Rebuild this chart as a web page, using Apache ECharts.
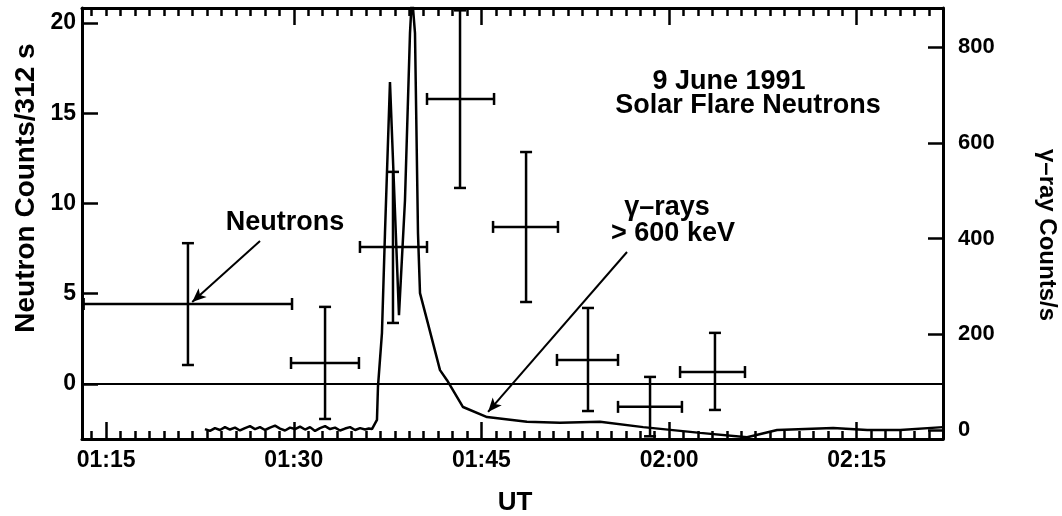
<!DOCTYPE html>
<html><head><meta charset="utf-8">
<script src="https://cdn.jsdelivr.net/npm/echarts@6/dist/echarts.min.js"></script>
<style>html,body{margin:0;padding:0;background:#fff}#c{width:1062px;height:516px}</style>
</head><body><div id="c"></div>
<script>
// Time axis: minutes after 01:15 UT
const xTickValues = [0, 15, 30, 45, 60];
const xTickLabels = ['01:15', '01:30', '01:45', '02:00', '02:15'];
const leftTickValues = [0, 5, 10, 15, 20];
const rightTickValues = [0, 200, 400, 600, 800];

// Neutron counts per 312 s bins (left axis)
const neutronTime   = [6.54, 17.5, 22.93, 28.29, 33.57, 38.52, 43.48, 48.67];
const neutronTimeLo = [-1.8, 14.78, 20.29, 25.65, 30.93, 36.04, 40.92, 45.88];
const neutronTimeHi = [14.86, 20.21, 25.65, 31.01, 36.12, 40.92, 46.03, 51.07];
const neutronCounts = [4.43, 1.16, 7.59, 15.79, 8.7, 1.33, -1.27, 0.66];
const neutronLo     = [1.05, -1.94, 3.38, 10.86, 4.54, -1.5, -2.9, -1.44];
const neutronHi     = [7.8, 4.27, 11.75, 20.7, 12.85, 4.21, 0.39, 2.83];

// Gamma-ray > 600 keV counts/s (right axis)
const gammaTime = [7.9, 8.3, 8.7, 9.1, 9.5, 9.9, 10.3, 10.7, 11.1, 11.5, 11.9, 12.3, 12.7, 13.1, 13.5, 13.9,
  14.3, 14.7, 15.1, 15.5, 15.9, 16.3, 16.7, 17.1, 17.5, 17.9, 18.3, 18.7, 19.1, 19.5, 19.9, 20.3, 20.7, 21.0, 21.25,
  21.65, 21.73, 22.05, 22.29, 22.69, 23.41, 23.89, 24.29, 24.45, 24.69, 24.93, 25.09, 25.65, 26.69, 27.25, 28.53,
  30.45, 33.64, 36.28, 39.48, 42.93, 47.48, 51.24, 53.64, 58.12, 60.84, 63.48, 66.9];
const gammaCounts = [2, -2, 4, 0, 6, 1, 5, -1, 4, 8, 2, 6, 0, 5, 9, 3,
  -1, 5, 2, 7, 1, 6, -2, 4, 8, 2, 5, -1, 3, 6, 0, 4, 1, 3, 2,
  21, 90, 203, 411, 727, 240, 480, 829, 908, 829, 411, 286, 230, 125, 104, 48,
  27, 17, 15, 17, 6, -6, -15, 0, 4, 0, 0, 6];

// Annotation arrows (data coordinates on left axis)
const neutronArrow = [[12.3, 7.92], [6.88, 4.54]];
const gammaArrow = [[41.64, 7.31], [30.53, -1.55]];

const X_MIN = -1.93, X_MAX = 66.9;
const minorStep = 15 / 13;
const minorTicks = [];
for (let k = -1; k * minorStep < X_MAX; k++) { const v = k * minorStep; if (v > X_MIN) minorTicks.push(+v.toFixed(4)); }

const FONT = '"Liberation Sans", Arial, sans-serif';
const chart = echarts.init(document.getElementById('c'), null, {renderer: 'canvas'});

const ebData = neutronTime.map((t, i) => [t, neutronTimeLo[i], neutronTimeHi[i], neutronCounts[i], neutronLo[i], neutronHi[i]]);
const gammaData = gammaTime.map((t, i) => [t, gammaCounts[i]]);

const axisLine = {show: true, onZero: false, lineStyle: {color: '#000', width: 3}};
function xAx(pos, ticks, len, showLine, labels) {
  return {
    type: 'value', position: pos, min: X_MIN, max: X_MAX,
    axisLine: showLine ? axisLine : {show: false, onZero: false},
    axisTick: {show: true, inside: true, length: len, customValues: ticks, lineStyle: {color: '#000', width: 2.5}},
    axisLabel: labels ? {
      show: true, customValues: xTickValues, margin: 10,
      color: '#000', fontFamily: FONT, fontWeight: 'bold', fontSize: 23,
      formatter: v => xTickLabels[xTickValues.indexOf(Math.round(v))] || ''
    } : {show: false},
    splitLine: {show: false}
  };
}

const option = {
  animation: false,
  backgroundColor: '#fff',
  grid: {left: 82, right: 119, top: 8, bottom: 77},
  xAxis: [
    xAx('bottom', minorTicks, 8, true, true),
    xAx('bottom', xTickValues, 17, false, false),
    xAx('top', minorTicks, 8, true, false),
    xAx('top', xTickValues.slice(1), 17, false, false)
  ],
  yAxis: [
    {
      type: 'value', position: 'left', min: -3.05, max: 20.83,
      axisLine: axisLine,
      axisTick: {show: true, inside: true, length: 16, customValues: leftTickValues, lineStyle: {color: '#000', width: 2.5}},
      axisLabel: {show: true, customValues: leftTickValues, margin: 6, color: '#000', fontFamily: FONT, fontWeight: 'bold', fontSize: 23},
      splitLine: {show: false}
    },
    {
      type: 'value', position: 'right', min: -18.8, max: 881.5,
      axisLine: axisLine,
      axisTick: {show: true, inside: true, length: 15, customValues: rightTickValues, lineStyle: {color: '#000', width: 2.5}},
      axisLabel: {show: true, customValues: rightTickValues, margin: 15, color: '#000', fontFamily: FONT, fontWeight: 'bold', fontSize: 22},
      splitLine: {show: false}
    }
  ],
  series: [
    {
      type: 'line', name: 'gamma', xAxisIndex: 0, yAxisIndex: 1,
      data: gammaData, showSymbol: false, symbol: 'none', clip: true,
      lineStyle: {color: '#000', width: 2.5}
    },
    {
      type: 'custom', name: 'neutrons', xAxisIndex: 0, yAxisIndex: 0,
      data: ebData,
      encode: {x: [0, 1, 2], y: [3, 4, 5]},
      renderItem: function (params, api) {
        const c = api.coord([api.value(0), api.value(3)]);
        const l = api.coord([api.value(1), api.value(3)]);
        const r = api.coord([api.value(2), api.value(3)]);
        const lo = api.coord([api.value(0), api.value(4)]);
        const hi = api.coord([api.value(0), api.value(5)]);
        const cap = 6;
        const st = {stroke: '#000', lineWidth: 2.5, fill: null};
        return {type: 'group', children: [
          {type: 'line', shape: {x1: l[0], y1: c[1], x2: r[0], y2: c[1]}, style: st},
          {type: 'line', shape: {x1: c[0], y1: lo[1], x2: c[0], y2: hi[1]}, style: st},
          {type: 'line', shape: {x1: l[0], y1: c[1] - cap, x2: l[0], y2: c[1] + cap}, style: st},
          {type: 'line', shape: {x1: r[0], y1: c[1] - cap, x2: r[0], y2: c[1] + cap}, style: st},
          {type: 'line', shape: {x1: c[0] - cap, y1: lo[1], x2: c[0] + cap, y2: lo[1]}, style: st},
          {type: 'line', shape: {x1: c[0] - cap, y1: hi[1], x2: c[0] + cap, y2: hi[1]}, style: st}
        ]};
      },
      markLine: {
        silent: true, animation: false,
        symbol: 'none',
        label: {show: false},
        lineStyle: {color: '#000', type: 'solid', width: 2},
        data: [
          [{coord: [X_MIN, 0], symbol: 'none'}, {coord: [X_MAX, 0], symbol: 'none'}],
          [{coord: neutronArrow[0], symbol: 'none'}, {coord: neutronArrow[1], symbol: 'arrow', symbolSize: [9, 14]}],
          [{coord: gammaArrow[0], symbol: 'none'}, {coord: gammaArrow[1], symbol: 'arrow', symbolSize: [9, 14]}]
        ]
      }
    }
  ],
  graphic: [
    {type: 'text', x: 26, y: 188, rotation: Math.PI / 2, style: {text: 'Neutron Counts/312 s', fill: '#000', font: 'bold 28px ' + FONT, align: 'center', verticalAlign: 'middle'}},
    {type: 'text', x: 1047, y: 235, rotation: -Math.PI / 2, style: {text: 'γ–ray Counts/s', fill: '#000', font: 'bold 24px ' + FONT, align: 'center', verticalAlign: 'middle'}},
    {type: 'text', x: 515, y: 503, style: {text: 'UT', fill: '#000', font: 'bold 26px ' + FONT, align: 'center', verticalAlign: 'middle'}},
    {type: 'text', x: 729, y: 82, style: {text: '9 June 1991', fill: '#000', font: 'bold 27px ' + FONT, align: 'center', verticalAlign: 'middle'}},
    {type: 'text', x: 748, y: 106, style: {text: 'Solar Flare Neutrons', fill: '#000', font: 'bold 27px ' + FONT, align: 'center', verticalAlign: 'middle'}},
    {type: 'text', x: 285, y: 223, style: {text: 'Neutrons', fill: '#000', font: 'bold 27px ' + FONT, align: 'center', verticalAlign: 'middle'}},
    {type: 'text', x: 667, y: 208, style: {text: 'γ–rays', fill: '#000', font: 'bold 27px ' + FONT, align: 'center', verticalAlign: 'middle'}},
    {type: 'text', x: 673, y: 234, style: {text: '> 600 keV', fill: '#000', font: 'bold 27px ' + FONT, align: 'center', verticalAlign: 'middle'}}
  ]
};
chart.setOption(option);
</script>
</body></html>
